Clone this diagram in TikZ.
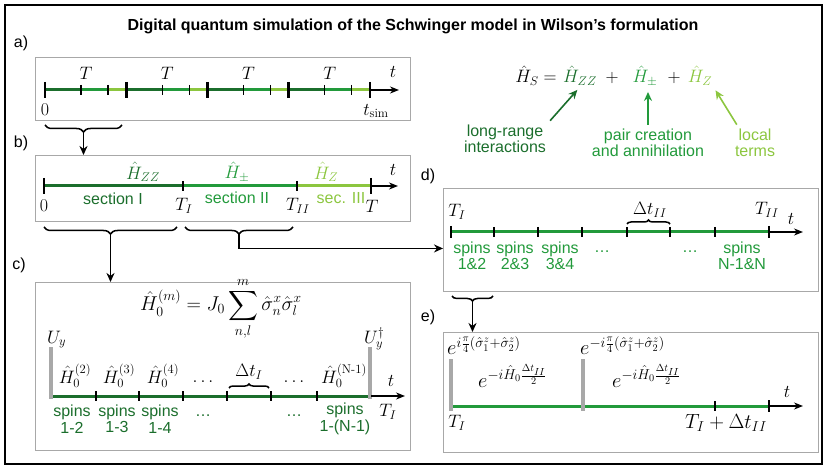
\RequirePackage{fix-cm}
\documentclass[tikz,border=0pt]{standalone}
\usepackage{amsmath}
\usepackage{fontspec}
\newfontfamily\lblfont{Liberation Sans}
\usepackage{tikz}
\usetikzlibrary{positioning,arrows.meta,decorations.pathreplacing,calc}
\definecolor{gdark}{HTML}{1B6E2C}
\definecolor{gmid}{HTML}{229A3B}
\definecolor{glight}{HTML}{8CC63F}
\definecolor{gbox}{HTML}{A8A8A8}

\begin{document}
\begin{tikzpicture}[x=1pt, y=-1pt, font=\lblfont\fontsize{16}{16.5}\selectfont,
  every node/.style={inner sep=1pt},
  mth/.style={font=\fontsize{18}{20}\selectfont},
  bigmth/.style={font=\fontsize{20.5}{22}\selectfont},
  panel/.style={draw=gbox, line width=0.9pt, anchor=north west, inner sep=0pt},
  tl/.style={line width=3pt},
  bigtick/.style={line width=2.6pt},
  tick/.style={line width=1.3pt},
  axis/.style={line width=1.6pt, -{Stealth[length=9pt, width=7pt]}},
  conn/.style={line width=1.8pt, -{Stealth[length=9pt, width=8pt]}},
  garr/.style={line width=1.6pt, shorten >=4pt, -{Stealth[length=9pt, width=8pt]}},
  brc/.style={decorate, decoration={brace, amplitude=#1}, line width=1.5pt},
  brc/.default=7pt,
  ubar/.style={draw=gbox, line width=3.5pt},
  note/.style={align=center, inner sep=4pt}]

\useasboundingbox (0,0) rectangle (830,470);
\draw[line width=1.8pt] (5,5) rectangle (822,464);
\node[font=\lblfont\bfseries\fontsize{16}{18}\selectfont] (title) at (413,26)
  {Digital quantum simulation of the Schwinger model in Wilson’s formulation};

% a) full simulation time
\node (la) at (21,43) {a)};
\node[panel, minimum width=375pt, minimum height=63pt] (boxa) at (35,57) {};
\foreach \i in {0,...,3} {
  \pgfmathsetmacro\s{45+81.25*\i}
  \draw[tl, gdark] (\s,90) -- ++(36,0);
  \draw[tl, gmid] (\s+36,90) -- ++(27,0);
  \draw[tl, glight] (\s+63,90) -- ++(18.25,0);
  \draw[tick] (\s+36,85) -- ++(0,10) (\s+63,85) -- ++(0,10);
  \node[mth] at (\s+41,73) {$T$};
}
\foreach \i in {0,...,4} \draw[bigtick] (45+81.25*\i,82) -- ++(0,16);
\draw[axis] (370,90) -- (399,90);
\node[mth] at (45,110) {$0$};
\node[mth] at (376,111) {$t_{\mathrm{sim}}$};
\node[mth] at (393,72) {$t$};

% b) one period
\node (lb) at (21,143) {b)};
\node[panel, minimum width=375pt, minimum height=66pt] (boxb) at (35,155) {};
\draw[tl, gdark] (44,186) -- (183,186);
\draw[tl, gmid] (183,186) -- (297,186);
\draw[tl, glight] (297,186) -- (371,186);
\draw[tick] (183,181) -- ++(0,10) (297,181) -- ++(0,10);
\draw[bigtick] (44,178) -- ++(0,16) (371,178) -- ++(0,16);
\draw[axis] (371,186) -- (398,186);
\node[mth, text=gdark] (hzzb) at (143,172) {$\hat H_{ZZ}$};
\node[text=gdark] (sec1) at (113,199) {section I};
\node[mth, text=gmid] (hpmb) at (237,172) {$\hat H_\pm$};
\node[text=gmid] (sec2) at (237,198) {section II};
\node[mth, text=glight] (hzb) at (326,172) {$\hat H_Z$};
\node[text=glight] (sec3) at (341,198) {sec. III};
\node[mth] at (44,206) {$0$};
\node[mth] at (184,206) {$T_I$};
\node[mth] at (298,206) {$T_{II}$};
\node[mth] at (372,206) {$T$};
\node[mth] at (393,170) {$t$};

% c) section I
\node (lc) at (19,265) {c)};
\node[panel, minimum width=375pt, minimum height=168pt] (boxc) at (35,282) {};
\node[anchor=base, font=\fontsize{20}{22}\selectfont] (h0m) at (221,311)
  {$\displaystyle \hat H_0^{(m)} = J_0 \sum_{n,l}^{m} \hat\sigma_n^x\hat\sigma_l^x$};
\draw[tl, gdark] (51,396) -- (370,396);
\foreach \x in {96,139,183,227,271,317} \draw[tick] (\x,391) -- ++(0,10);
\draw[ubar] (51,347) -- (51,399);
\draw[ubar] (370,347) -- (370,399);
\draw[axis] (371,396) -- (405,396);
\node[mth, anchor=base west] (uy) at (46,343) {$U_y$};
\node[mth, anchor=base west] (uyd) at (363,343) {$U_y^\dagger$};
\foreach \x/\k in {75/2,119/3,163/4} \node[mth] (h0\k) at (\x,376) {$\hat H_0^{(\k)}$};
\node[mth] (h0n) at (344,376) {$\hat H_0^{(\textrm{N-1})}$};
\node[mth, anchor=base] at (203,382) {$\ldots$};
\node[mth, anchor=base] at (294,382) {$\ldots$};
\draw[brc=4pt] (229,388) -- (269,388);
\node[mth] (dti) at (249,372) {$\Delta t_I$};
\node[mth] at (391,381) {$t$};
\node[mth] at (388,412) {$T_I$};
\foreach \x/\a in {72/1-2,117/1-3,160/1-4}
  \node[align=center, text=gdark] at (\x,419) {spins\\\a};
\node[align=center, text=gdark] (spn) at (345,419) {spins\\1-(N-1)};
\node[anchor=base, text=gdark] at (203,416) {\dots};
\node[anchor=base, text=gdark] at (294,416) {\dots};

% d) section II
\node (ld) at (428,176) {d)};
\node[panel, minimum width=375pt, minimum height=103pt] (boxd) at (443,188) {};
\draw[tl, gmid] (451,232) -- (769,232);
\foreach \x in {494,538,582,627,670,715} \draw[tick] (\x,227) -- ++(0,10);
\draw[bigtick] (451,226) -- ++(0,12) (769,226) -- ++(0,12);
\draw[axis] (769,232) -- (803,232);
\node[mth] at (457,212) {$T_I$};
\node[mth] at (767,210) {$T_{II}$};
\node[mth] at (791,219) {$t$};
\draw[brc=4pt] (627,224) -- (670,224);
\node[mth] (dtii) at (650,210) {$\Delta t_{II}$};
\foreach \x/\a in {472/1\&2,515/2\&3,560/3\&4}
  \node[align=center, text=gmid] at (\x,256) {spins\\\a};
\node[align=center, text=gmid] at (742,256) {spins\\N-1\&N};
\node[anchor=base, text=gmid] at (602,253) {\dots};
\node[anchor=base, text=gmid] at (690,253) {\dots};

% e) one step of section II
\node (le) at (428,317) {e)};
\node[panel, minimum width=375pt, minimum height=120pt] (boxe) at (443,332) {};
\draw[tl, gmid] (451,406) -- (769,406);
\draw[tick] (715,401) -- ++(0,10);
\draw[bigtick] (769,400) -- ++(0,12);
\draw[ubar] (451,359) -- (451,411);
\draw[ubar] (583,359) -- (583,411);
\draw[axis] (769,406) -- (803,406);
\node[bigmth, anchor=base west] (rz1) at (446,355) {$e^{i\frac{\pi}{4}(\hat\sigma_1^z+\hat\sigma_2^z)}$};
\node[bigmth, anchor=base west] (rz2) at (579,355) {$e^{-i\frac{\pi}{4}(\hat\sigma_1^z+\hat\sigma_2^z)}$};
\node[bigmth, anchor=base west] (ev1) at (477,387) {$e^{-i\hat H_0\frac{\Delta t_{II}}{2}}$};
\node[bigmth, anchor=base west] (ev2) at (611,387) {$e^{-i\hat H_0\frac{\Delta t_{II}}{2}}$};
\node[mth] at (457,423) {$T_I$};
\node[bigmth] at (726,423) {$T_I+\Delta t_{II}$};
\node[mth] at (787,392) {$t$};

% braces and links between panels
\draw[brc] (122,125) -- (45,125);
\coordinate (ab) at (83.5,132);
\draw[conn] (ab) -- (ab |- boxb.north);
\draw[brc] (177,227) -- (44,227);
\coordinate (bc) at (110.5,234);
\draw[conn] (bc) -- (bc |- boxc.north);
\draw[brc] (293,227) -- (185,227);
\coordinate (bd) at (239,234);
\draw[conn] (bd) |- ([yshift=-8.5pt]boxd.west);
\draw[brc=5pt] (493,296) -- (452,296);
\coordinate (de) at (472.5,301);
\draw[conn] (de) -- (de |- boxe.north);

% Hamiltonian
\begin{scope}[font=\fontsize{18}{20}\selectfont]
\node[anchor=base] (hs) at (536,83) {$\hat H_S =$};
\node[anchor=base, text=gdark] (hzz) at (580,83) {$\hat H_{ZZ}$};
\node[anchor=base] (plus1) at (612,83) {$+$};
\node[anchor=base, text=gmid] (hpm) at (645,83) {$\hat H_\pm$};
\node[anchor=base] (plus2) at (674,83) {$+$};
\node[anchor=base, text=glight] (hz) at (700,83) {$\hat H_Z$};
\end{scope}
\node[note, text=gdark] (lr) at (505,139) {long-range\\interactions};
\node[note, text=gmid] (pc) at (648,143) {pair creation\\and annihilation};
\node[note, text=glight] (lt) at (755,143) {local\\terms};
\draw[garr, gdark] (lr.north east) -- (hzz.south);
\draw[garr, gmid] (pc.north) -- (pc.north |- hpm.south);
\draw[garr, glight] ([xshift=6pt]lt.north west) -- (hz.south east);
\end{tikzpicture}
\end{document}
